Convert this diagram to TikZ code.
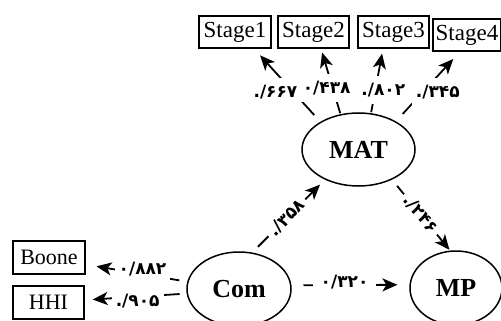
\documentclass[tikz,border=0pt]{standalone}
\usepackage{fontspec}
\setmainfont{Liberation Serif}
\newfontfamily\fafont{DejaVu Sans}
\usetikzlibrary{arrows.meta,shapes.geometric}
\begin{document}
\begin{tikzpicture}[x=1pt,y=-1pt,
  box/.style={draw,line width=1.3pt,inner sep=0pt,minimum height=32pt,font=\fontsize{23}{23}\selectfont},
  var/.style={ellipse,draw,line width=1.5pt,inner sep=0pt,font=\bfseries\fontsize{26}{26}\selectfont},
  arr/.style={line width=1.8pt,-{Stealth[length=15pt,width=13pt,inset=4pt]}},
  lab/.style={fill=white,font=\fafont\bfseries\fontsize{17}{17}\selectfont,inner xsep=4pt,inner ysep=7pt}]
\useasboundingbox (0,0) rectangle (501,321);
% boxes
\node[box,minimum width=72pt] (s1) at (235,32) {Stage1};
\node[box,minimum width=71pt] (s2) at (313.5,32) {Stage2};
\node[box,minimum width=71pt] (s3) at (393.5,32) {Stage3};
\node[box,minimum width=68pt] (s4) at (467,35) {Stage4};
\node[box,minimum width=72pt,minimum height=33pt,font=\fontsize{22}{22}\selectfont] (boone) at (49,257.5) {Boone};
\node[box,minimum width=71pt,minimum height=33pt,font=\fontsize{22}{22}\selectfont] (hhi) at (48.5,302.5) {HHI};
% latent variables
\node[var,minimum width=113pt,minimum height=73pt] (mat) at (358.5,149.5) {MAT};
\node[var,minimum width=104pt,minimum height=74pt] (com) at (239,289) {Com};
\node[var,minimum width=92pt,minimum height=74pt] (mp) at (456,288) {MP};
% connectors
\draw[arr,shorten <=9pt,shorten >=9pt] (mat.144) -- ([xshift=19pt]s1.south) node[lab,pos=.405,xshift=-18pt] {./۶۶۷};
\draw[arr,shorten <=1pt,shorten >=4pt] (mat.117) -- ([xshift=7.5pt]s2.south) node[lab,pos=.40,xshift=-6pt] {۰/۴۳۸};
\draw[arr,shorten <=1pt,shorten >=5pt] (mat.71) -- ([xshift=-10.5pt]s3.south) node[lab,pos=.36,xshift=8pt] {./۸۰۲};
\draw[arr,shorten <=10pt,shorten >=10pt] (mat.37) -- ([xshift=-7pt]s4.south) node[lab,pos=.42,xshift=15pt] {./۳۴۵};
\draw[arr,shorten <=8pt,shorten >=11pt] (com.172) -- ([yshift=-7pt]boone.east) node[lab,pos=.44,yshift=5pt,inner ysep=4pt] {۰/۸۸۲};
\draw[arr,shorten <=7pt,shorten >=8pt] (com.185) -- ([yshift=2.5pt]hhi.east) node[lab,pos=.48,yshift=-4pt,inner ysep=4pt] {./۹۰۵};
\draw[arr,shorten <=8pt,shorten >=7pt] (com.70) -- (mat.222) node[lab,pos=.475,sloped,inner ysep=3pt] {./۳۵۸};
\draw[arr,shorten <=8pt,shorten >=1pt] (mat.318) -- (mp.99.5) node[lab,pos=.49,sloped,inner ysep=3pt] {./۲۴۶};
\draw[arr,shorten <=12pt,shorten >=12pt] (com.4) -- (mp.176) node[lab,pos=.45,yshift=3pt,inner ysep=3pt,inner xsep=8pt] {۰/۳۲۰};
\end{tikzpicture}
\end{document}
